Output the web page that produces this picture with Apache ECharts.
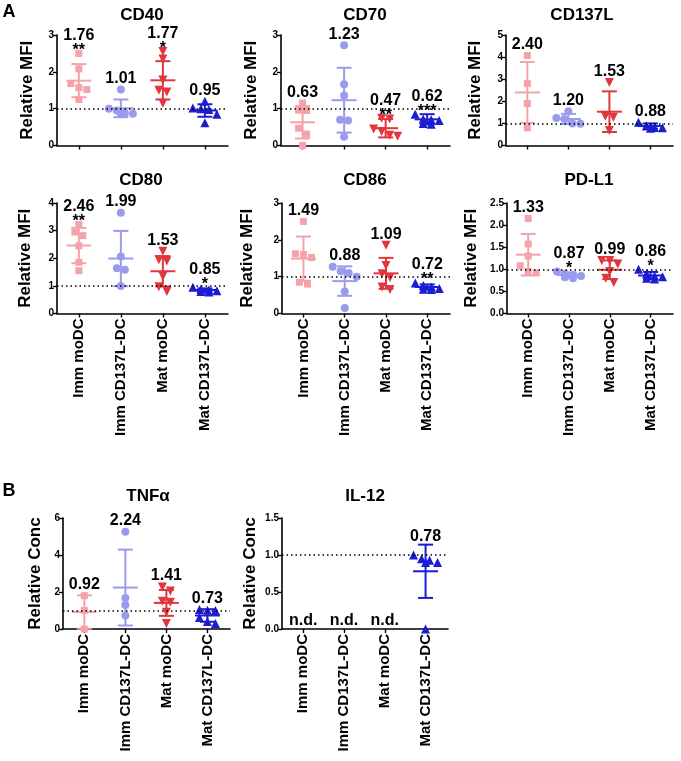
<!DOCTYPE html>
<html><head><meta charset="utf-8">
<script src="https://cdn.jsdelivr.net/npm/echarts@6/dist/echarts.min.js"></script>
<style>html,body{margin:0;padding:0;background:#fff}#c{width:681px;height:761px}</style>
</head><body><div id="c"></div>
<script>
// ---------- DATA ----------
const categories = ['Imm moDC', 'Imm CD137L-DC', 'Mat moDC', 'Mat CD137L-DC'];

const cd40Points = [[2.50, 2.08, 1.68, 1.57, 1.52, 1.25], [1.52, 1.00, 0.95, 0.88, 0.86, 0.85], [2.55, 2.35, 1.78, 1.50, 1.45, 1.15], [1.20, 1.02, 1.00, 0.98, 0.85, 0.62]];
const cd40Means = [1.76, 1.01, 1.77, 0.95];
const cd40Sds = [0.45, 0.24, 0.52, 0.17];
const cd40Labels = ['1.76', '1.01', '1.77', '0.95'];
const cd40Stars = ['**', '', '*', ''];
const cd40Ticks = [0, 1, 2, 3];

const cd70Points = [[1.15, 0.96, 0.95, 0.47, 0.31, 0.00], [2.72, 1.66, 1.36, 0.70, 0.68, 0.24], [0.74, 0.72, 0.45, 0.38, 0.28, 0.25], [0.85, 0.72, 0.70, 0.68, 0.60, 0.58]];
const cd70Means = [0.63, 1.23, 0.47, 0.71];
const cd70Sds = [0.44, 0.88, 0.25, 0.14];
const cd70Labels = ['0.63', '1.23', '0.47', '0.62'];
const cd70Stars = ['', '', '**', '***'];
const cd70Ticks = [0, 1, 2, 3];

const cd137lPoints = [[4.07, 2.80, 1.90, 0.80], [1.55, 1.25, 1.20, 1.00, 0.98], [2.85, 1.32, 1.28, 0.68], [1.05, 0.88, 0.82, 0.80, 0.78]];
const cd137lMeans = [2.40, 1.20, 1.53, 0.88];
const cd137lSds = [1.38, 0.23, 0.92, 0.12];
const cd137lLabels = ['2.40', '1.20', '1.53', '0.88'];
const cd137lStars = ['', '', '', ''];
const cd137lTicks = [0, 1, 2, 3, 4, 5];

const cd80Points = [[3.22, 2.95, 2.82, 2.45, 1.85, 1.55], [3.65, 2.06, 1.64, 1.58, 1.00], [2.25, 1.95, 1.90, 1.35, 0.97, 0.80], [0.95, 0.88, 0.85, 0.82, 0.80, 0.78]];
const cd80Means = [2.46, 1.99, 1.53, 0.85];
const cd80Sds = [0.64, 1.00, 0.55, 0.06];
const cd80Labels = ['2.46', '1.99', '1.53', '0.85'];
const cd80Stars = ['**', '', '', '*'];
const cd80Ticks = [0, 1, 2, 3, 4];

const cd86Points = [[2.50, 1.62, 1.60, 1.52, 0.85, 0.80], [1.27, 1.15, 1.10, 1.00, 0.60, 0.15], [1.85, 1.30, 1.08, 0.98, 0.72, 0.65], [0.83, 0.76, 0.72, 0.68, 0.66, 0.65]];
const cd86Means = [1.49, 0.88, 1.09, 0.72];
const cd86Sds = [0.60, 0.40, 0.42, 0.07];
const cd86Labels = ['1.49', '0.88', '1.09', '0.72'];
const cd86Stars = ['', '', '', '**'];
const cd86Ticks = [0, 1, 2, 3];

const pdl1Points = [[2.15, 1.57, 1.30, 1.08, 0.95, 0.92], [0.95, 0.90, 0.87, 0.85, 0.82, 0.80], [1.20, 1.20, 1.12, 0.95, 0.80, 0.70], [1.00, 0.90, 0.85, 0.83, 0.80, 0.78]];
const pdl1Means = [1.33, 0.87, 0.99, 0.86];
const pdl1Sds = [0.47, 0.06, 0.21, 0.08];
const pdl1Labels = ['1.33', '0.87', '0.99', '0.86'];
const pdl1Stars = ['', '*', '', '*'];
const pdl1Ticks = [0.0, 0.5, 1.0, 1.5, 2.0, 2.5];

const tnfPoints = [[1.80, 1.00, 0.00], [5.26, 1.67, 1.30, 0.73], [2.27, 2.05, 1.50, 1.45, 0.90, 0.30], [1.05, 1.02, 1.00, 0.62, 0.40, 0.30]];
const tnfMeans = [0.92, 2.24, 1.41, 0.73];
const tnfSds = [0.90, 2.05, 0.70, 0.34];
const tnfLabels = ['0.92', '2.24', '1.41', '0.73'];
const tnfStars = ['', '', '', ''];
const tnfTicks = [0, 2, 4, 6];

const il12Points = [[], [], [], [1.00, 0.95, 0.93, 0.90, 0.90, 0.00]];
const il12Means = [null, null, null, 0.78];
const il12Sds = [null, null, null, 0.36];
const il12Labels = ['n.d.', 'n.d.', 'n.d.', '0.78'];
const il12Stars = ['', '', '', ''];
const il12Ticks = [0.0, 0.5, 1.0, 1.5];

// ---------- LAYOUT / STYLE ----------
const FONT = '"Liberation Sans", Arial, sans-serif';
const colors = ['#F4A3A8', '#9B9BEE', '#E2363F', '#1C1CD2'];
const symbols = ['rect', 'circle', 'triangle', 'triangle'];
const symbolRot = [0, 0, 180, 0];
const symbolSizes = [7, 8, 9, 9];
const XMIN = -0.52, XMAX = 3.55;

const panels = [
  {title: 'CD40', pts: cd40Points, means: cd40Means, sds: cd40Sds, labels: cd40Labels, stars: cd40Stars, ticks: cd40Ticks, yName: 'Relative MFI', cats: false,
   left: 57, top: 35, width: 171, height: 110.5, tx: 142, ty: 15, gap: 21, dec: 0},
  {title: 'CD70', pts: cd70Points, means: cd70Means, sds: cd70Sds, labels: cd70Labels, stars: cd70Stars, ticks: cd70Ticks, yName: 'Relative MFI', cats: false,
   left: 281, top: 35, width: 169, height: 110.5, tx: 365, ty: 15, gap: 21.5, dec: 0},
  {title: 'CD137L', pts: cd137lPoints, means: cd137lMeans, sds: cd137lSds, labels: cd137lLabels, stars: cd137lStars, ticks: cd137lTicks, yName: 'Relative MFI', cats: false,
   left: 506, top: 35, width: 167, height: 110.5, tx: 582, ty: 15, gap: 22.5, dec: 0},
  {title: 'CD80', pts: cd80Points, means: cd80Means, sds: cd80Sds, labels: cd80Labels, stars: cd80Stars, ticks: cd80Ticks, yName: 'Relative MFI', cats: true,
   left: 57, top: 203, width: 171, height: 110.5, tx: 141, ty: 180, gap: 23.5, dec: 0},
  {title: 'CD86', pts: cd86Points, means: cd86Means, sds: cd86Sds, labels: cd86Labels, stars: cd86Stars, ticks: cd86Ticks, yName: 'Relative MFI', cats: true,
   left: 282, top: 203, width: 168, height: 110.5, tx: 365, ty: 180, gap: 26, dec: 0},
  {title: 'PD-L1', pts: pdl1Points, means: pdl1Means, sds: pdl1Sds, labels: pdl1Labels, stars: pdl1Stars, ticks: pdl1Ticks, yName: 'Relative MFI', cats: true,
   left: 507, top: 203, width: 166, height: 110.5, tx: 589, ty: 180, gap: 27.5, dec: 1},
  {title: 'TNFα', pts: tnfPoints, means: tnfMeans, sds: tnfSds, labels: tnfLabels, stars: tnfStars, ticks: tnfTicks, yName: 'Relative Conc', cats: true,
   left: 63, top: 518, width: 167, height: 111, tx: 148, ty: 496, gap: 19.5, dec: 0},
  {title: 'IL-12', pts: il12Points, means: il12Means, sds: il12Sds, labels: il12Labels, stars: il12Stars, ticks: il12Ticks, yName: 'Relative Conc', cats: true,
   left: 282, top: 518, width: 166, height: 111, tx: 365, ty: 496, gap: 23.5, dec: 1}
];

// simple beeswarm: points close in pixel space spread horizontally
function swarm(vals, pxPerUnitY, stepX) {
  const sorted = vals.slice().sort((a, b) => b - a);
  const out = [];
  let cluster = [];
  const flush = () => {
    const n = cluster.length;
    cluster.forEach((v, k) => out.push([(k - (n - 1) / 2) * stepX, v]));
    cluster = [];
  };
  sorted.forEach(v => {
    if (cluster.length && ((cluster[cluster.length - 1] - v) * pxPerUnitY >= 6 || cluster.length >= 4)) flush();
    cluster.push(v);
  });
  flush();
  return out;
}

const grids = [], xAxes = [], yAxes = [], series = [], graphics = [];

panels.forEach((p, pi) => {
  const ymax = p.ticks[p.ticks.length - 1];
  const interval = p.ticks[1] - p.ticks[0];
  const pxX = p.width / (XMAX - XMIN);
  const pxY = p.height / ymax;
  grids.push({left: p.left, top: p.top, width: p.width, height: p.height, containLabel: false});
  xAxes.push({
    type: 'value', gridIndex: pi, min: XMIN, max: XMAX,
    axisLine: {show: true, onZero: false, lineStyle: {color: '#000', width: 1.6}},
    axisTick: {show: true, customValues: [0, 1, 2, 3], length: 4, lineStyle: {color: '#000', width: 1.4}},
    axisLabel: {show: p.cats, customValues: [0, 1, 2, 3], rotate: 90, margin: 5,
      formatter: v => categories[Math.round(v)] || '',
      fontFamily: FONT, fontWeight: 'bold', fontSize: 15, color: '#000'},
    splitLine: {show: false}
  });
  yAxes.push({
    type: 'value', gridIndex: pi, min: 0, max: ymax, interval: interval,
    name: p.yName, nameLocation: 'middle', nameGap: p.gap,
    nameTextStyle: {fontFamily: FONT, fontWeight: 'bold', fontSize: 17, color: '#000'},
    axisLine: {show: true, onZero: false, lineStyle: {color: '#000', width: 1.6}},
    axisTick: {show: true, length: 4, lineStyle: {color: '#000', width: 1.4}},
    axisLabel: {margin: 3, fontFamily: FONT, fontWeight: 'bold', fontSize: 10, color: '#000',
      formatter: v => v.toFixed(p.dec)},
    splitLine: {show: false}
  });
  // points
  p.pts.forEach((vals, gi) => {
    series.push({
      type: 'scatter', xAxisIndex: pi, yAxisIndex: pi, silent: true, z: 3,
      symbol: symbols[gi], symbolRotate: symbolRot[gi], symbolSize: symbolSizes[gi],
      itemStyle: {color: colors[gi], opacity: 1},
      data: swarm(vals, pxY, 8 / pxX).map(d => [gi + d[0], d[1]])
    });
  });
  // mean, SD bars, labels
  series.push({
    type: 'custom', xAxisIndex: pi, yAxisIndex: pi, silent: true, z: 4, clip: false,
    data: [0, 1, 2, 3].map(gi => [gi, p.means[gi] == null ? 0 : p.means[gi]]),
    encode: {x: 0, y: 1},
    renderItem: function (params, api) {
      const gi = params.dataIndex;
      const color = colors[gi];
      const mean = p.means[gi], sd = p.sds[gi];
      const cx = api.coord([gi, 0])[0];
      const children = [];
      const font16 = 'bold 16px ' + FONT;
      if (mean == null) {
        const y0 = api.coord([gi, 0])[1];
        children.push({type: 'text', x: cx, y: y0 - 8, style: {text: p.labels[gi], fill: '#000', font: font16, align: 'center', verticalAlign: 'middle'}});
        return {type: 'group', children};
      }
      const ym = api.coord([gi, mean])[1];
      const yt = api.coord([gi, mean + sd])[1];
      const yb = api.coord([gi, Math.max(0, mean - sd)])[1];
      const ls = {stroke: color, lineWidth: 2};
      children.push({type: 'line', shape: {x1: cx - 12.5, y1: ym, x2: cx + 12.5, y2: ym}, style: ls});
      children.push({type: 'line', shape: {x1: cx, y1: yt, x2: cx, y2: yb}, style: ls});
      children.push({type: 'line', shape: {x1: cx - 7.5, y1: yt, x2: cx + 7.5, y2: yt}, style: ls});
      children.push({type: 'line', shape: {x1: cx - 7.5, y1: yb, x2: cx + 7.5, y2: yb}, style: ls});
      const maxPt = Math.max.apply(null, p.pts[gi]);
      const topPx = Math.min(api.coord([gi, maxPt])[1] - 4, yt - 1);
      let numY = topPx - 7;
      if (p.stars[gi]) {
        children.push({type: 'text', x: cx, y: topPx + 1, style: {text: p.stars[gi], fill: '#000', font: font16, align: 'center', verticalAlign: 'middle'}});
        numY = topPx - 14;
      }
      children.push({type: 'text', x: cx, y: numY, style: {text: p.labels[gi], fill: '#000', font: font16, align: 'center', verticalAlign: 'middle'}});
      return {type: 'group', children};
    },
    markLine: {
      silent: true, symbol: ['none', 'none'], label: {show: false},
      lineStyle: {color: '#000', width: 1.5, type: [1.5, 3]},
      data: [{yAxis: 1}]
    }
  });
  graphics.push({type: 'text', x: p.tx, y: p.ty, style: {text: p.title, fill: '#000', font: 'bold 17px ' + FONT, align: 'center', verticalAlign: 'middle'}});
});

graphics.push({type: 'text', x: 9, y: 12, style: {text: 'A', fill: '#000', font: 'bold 18px ' + FONT, align: 'center', verticalAlign: 'middle'}});
graphics.push({type: 'text', x: 9, y: 491, style: {text: 'B', fill: '#000', font: 'bold 18px ' + FONT, align: 'center', verticalAlign: 'middle'}});

const chart = echarts.init(document.getElementById('c'), null, {renderer: 'canvas'});
chart.setOption({
  animation: false,
  backgroundColor: '#fff',
  grid: grids, xAxis: xAxes, yAxis: yAxes, series: series, graphic: graphics
});
</script></body></html>
